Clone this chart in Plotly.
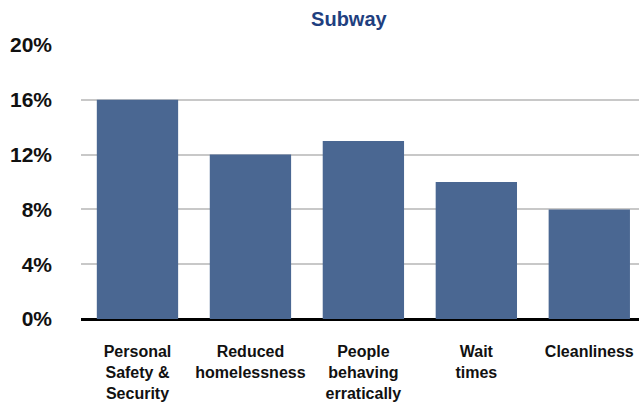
import plotly.graph_objects as go

categories = [
    "Personal<br>Safety &<br>Security",
    "Reduced<br>homelessness",
    "People<br>behaving<br>erratically",
    "Wait<br>times",
    "Cleanliness",
]
values = [16, 12, 13, 10, 8]
tick_vals = [0, 4, 8, 12, 16, 20]
tick_text = ["0%", "4%", "8%", "12%", "16%", "20%"]

FONT = "Liberation Sans, Arial, sans-serif"

fig = go.Figure(
    go.Bar(
        x=list(range(len(categories))),
        y=values,
        marker=dict(color="#4a6792", line=dict(width=0)),
        width=0.72,
        hoverinfo="skip",
    )
)

fig.update_layout(
    width=639,
    height=403,
    margin=dict(l=81, r=0, t=45, b=84),
    paper_bgcolor="white",
    plot_bgcolor="white",
    showlegend=False,
    title=dict(
        text="<b>Subway</b>",
        x=0.546,
        xanchor="center",
        y=0.952,
        yanchor="middle",
        font=dict(family=FONT, size=20, color="#1f3f7f"),
    ),
    xaxis=dict(
        tickmode="array",
        tickvals=list(range(len(categories))),
        ticktext=[f"<b>{c}</b>" for c in categories],
        range=[-0.5, 4.44],
        showgrid=False,
        zeroline=False,
        showline=False,
        ticks="",
        tickfont=dict(family=FONT, size=16, color="#111111"),
        ticklabelstandoff=21,
    ),
    yaxis=dict(
        range=[0, 20],
        tickmode="array",
        tickvals=tick_vals,
        ticktext=[f"<b>{t}</b>" for t in tick_text],
        showgrid=True,
        gridcolor="#c8c8c8",
        gridwidth=2,
        zeroline=True,
        zerolinecolor="#000000",
        zerolinewidth=3,
        ticks="",
        tickfont=dict(family=FONT, size=21, color="#111111"),
        ticklabelstandoff=28,
    ),
)

fig.write_html("out.html")
